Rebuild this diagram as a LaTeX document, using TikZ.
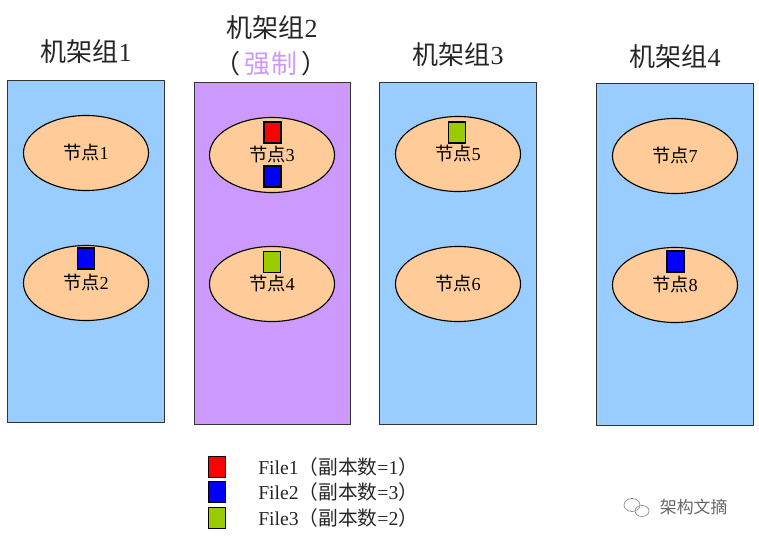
\documentclass[tikz,border=0pt]{standalone}
\usepackage{fontspec}
\setmainfont{Liberation Serif}
\newfontfamily\cjk{Noto Sans CJK SC}
\usetikzlibrary{shapes.geometric}
\definecolor{rackblue}{HTML}{99CCFF}
\definecolor{rackpurple}{HTML}{CC99FF}
\definecolor{hostorange}{HTML}{FFCC99}
\definecolor{fileone}{HTML}{FF0000}
\definecolor{filetwo}{HTML}{0000FF}
\definecolor{filethree}{HTML}{99CC00}
\tikzset{
  rack/.style={draw=black!80, line width=0.7pt, minimum width=3.9cm, minimum height=8.525cm, inner sep=0pt},
  host/.style={ellipse, draw, fill=hostorange, line width=0.8pt, minimum width=3.125cm, minimum height=1.875cm, font=\fontsize{13}{13}\selectfont},
  blk/.style={draw, line width=0.8pt, minimum width=0.425cm, minimum height=0.525cm, inner sep=0pt},
  title/.style={font=\fontsize{18.5}{20}\selectfont, text=black!85},
  legend/.style={anchor=west, inner sep=0pt, font=\fontsize{14}{16}\selectfont, text=black!85},
}

\begin{document}
\begin{tikzpicture}[x=0.025cm,y=-0.025cm]
\useasboundingbox (0,0) rectangle (759,540);

% racks
\node[rack, fill=rackblue] (rack1) at (86,251.5) {};
\node[rack, fill=rackpurple] (rack2) at (272.5,253.5) {};
\node[rack, fill=rackblue] (rack3) at (458,253.5) {};
\node[rack, fill=rackblue] (rack4) at (675,254.5) {};

\node[title] (title1) at (86,52) {{\cjk 机架组}1};
\node[title] (title2) at (272,28) {{\cjk 机架组}2};
\node[title] (force2) at (271,64) {{\cjk （\,\textcolor{rackpurple}{强制}\,）}};
\node[title] (title3) at (458,55) {{\cjk 机架组}3};
\node[title] (title4) at (675,57) {{\cjk 机架组}4};

% hosts
\node[host] (host1) at (86,153) {{\cjk 节点}1};
\node[host] (host2) at (86,283) {{\cjk 节点}2};
\node[host] (host3) at (272,155) {{\cjk 节点}3};
\node[host] (host4) at (272,284) {{\cjk 节点}4};
\node[host] (host5) at (458,154) {{\cjk 节点}5};
\node[host] (host6) at (458,284) {{\cjk 节点}6};
\node[host] (host7) at (675,156) {{\cjk 节点}7};
\node[host] (host8) at (675,285) {{\cjk 节点}8};

% replicas
\node[blk, fill=fileone] (f1a) at (272.5,132.5) {};
\node[blk, fill=filetwo] (f2a) at (272.5,176.5) {};
\node[blk, fill=filetwo] (f2b) at (86,258.5) {};
\node[blk, fill=filethree] (f3a) at (272,262) {};
\node[blk, fill=filethree] (f3b) at (457,132.5) {};
\node[blk, fill=filetwo] (f2c) at (675.5,261.5) {};

% legend
\node[blk, fill=fileone] (key1) at (217,467) {};
\node[blk, fill=filetwo] (key2) at (217,492) {};
\node[blk, fill=filethree] (key3) at (217,518) {};
\node[legend] (txt1) at (258,467) {File1{\cjk （副本数}=1{\cjk ）}};
\node[legend] (txt2) at (258,492) {File2{\cjk （副本数}=3{\cjk ）}};
\node[legend] (txt3) at (258,518) {File3{\cjk （副本数}=2{\cjk ）}};

% watermark
\draw[black!45, line width=0.5pt] (632,505) ellipse (8 and 6.5);
\draw[black!45, line width=0.5pt] (642,511) ellipse (7 and 5.5);
\node[anchor=west, text=black!60, font=\fontsize{12}{14}\selectfont] (mark) at (655,507) {\cjk 架构文摘};
\end{tikzpicture}
\end{document}
